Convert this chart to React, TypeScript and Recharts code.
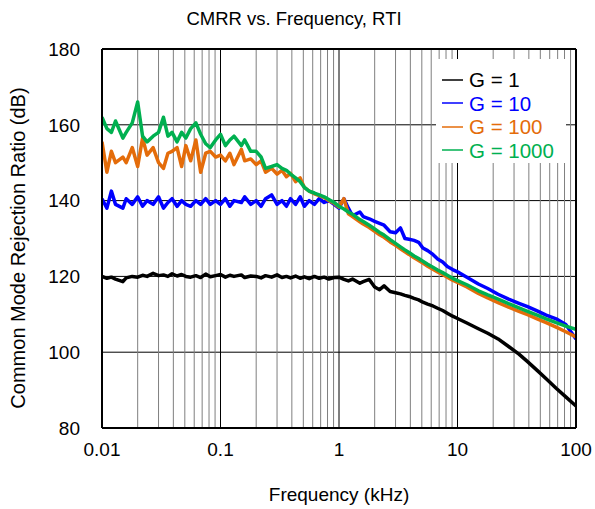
import React from "react";
import { LineChart, Line, XAxis, YAxis, CartesianGrid, ReferenceLine, Legend } from "recharts";

// frequency points (kHz)
const freq = [
  0.01, 0.011, 0.012, 0.013, 0.015, 0.016, 0.018, 0.02, 0.022, 0.024, 0.027, 0.03,
  0.033, 0.036, 0.039, 0.043, 0.047, 0.051, 0.056, 0.062, 0.068, 0.075, 0.082, 0.091,
  0.1, 0.11, 0.12, 0.13, 0.15, 0.16, 0.18, 0.2, 0.22, 0.24, 0.27, 0.3,
  0.33, 0.36, 0.39, 0.43, 0.47, 0.51, 0.56, 0.62, 0.68, 0.75, 0.82, 0.91,
  1, 1.1, 1.2, 1.3, 1.5, 1.6, 1.8, 2, 2.2, 2.4, 2.7, 3,
  3.3, 3.6, 3.9, 4.3, 4.7, 5.1, 5.6, 6.2, 6.8, 7.5, 8.2, 9.1,
  10, 12, 15, 18, 22, 27, 33, 39, 47, 56, 68, 82, 100,
];

// CMRR (dB), G = 1
const g1 = [
  120, 119.5, 119.8, 119.3, 118.6, 119.6, 120, 119.8, 120.3, 120, 120.8, 120.2,
  120.4, 120, 120.7, 120.1, 120.5, 120, 119.8, 120.2, 119.7, 120.6, 119.9, 120.2,
  120.5, 119.8, 120.3, 120, 120.4, 119.7, 120.1, 120, 119.6, 120.2, 119.8, 120.4,
  119.7, 120, 119.6, 120.1, 119.5, 119.9, 119.4, 120, 119.5, 119.8, 119.3, 119.7,
  119.8, 119.2, 118.8, 119.3, 118.2, 118.6, 119.2, 117.2, 116.5, 117.5, 116, 115.7,
  115.4, 115, 114.7, 114.2, 113.8, 113.2, 112.7, 112.2, 111.6, 111, 110.3, 109.5,
  108.9, 107.7, 106.2, 105, 103.5, 101.5, 99.5, 97.5, 95.2, 93, 90.5, 88.2, 85.8,
];

// G = 10
const g10 = [
  140.5, 138, 142.5, 139, 138, 140.5, 139, 141, 138.5, 140, 139, 141,
  138, 139.5, 140.5, 138.5, 140, 139, 138.5, 140, 139, 140.5, 139, 140,
  139, 140.5, 138.5, 140, 139.5, 141, 139, 140, 138.5, 140.5, 141.5, 139,
  140, 138.5, 140.5, 139, 141, 138.5, 140, 139, 140.5, 139.5, 140, 139,
  138, 140.5, 138, 136, 137, 135.8, 135.2, 134.5, 134, 133.5, 131.8, 131.5,
  132.8, 130, 129.8, 129.5, 129, 127.5, 126.8, 125.8, 124.6, 123.8, 122.6, 121.8,
  121.2, 119.8, 118, 116.8, 115.3, 114, 112.9, 112, 110.9, 109.8, 108.8, 107.3, 103.5,
];

// G = 100
const g100 = [
  155.5, 147.5, 153, 150, 151.5, 150, 154, 149, 156.5, 152, 154, 150,
  148.5, 152.5, 153, 154, 149, 154.5, 150.5, 156, 147.5, 152.5, 153, 151.5,
  152, 150.5, 152.5, 149.5, 153.5, 150.5, 151, 149.5, 150.5, 147.5, 148.5, 147,
  148, 146.3, 147.2, 145, 146, 143.5, 142.5, 141.8, 141.3, 140.8, 140, 139.3,
  138.3, 140.5, 136.5, 135.8, 134.4, 133.8, 132.9, 131.9, 131, 130.3, 129.1, 128.2,
  127.3, 126.5, 125.8, 124.9, 124.2, 123.5, 122.7, 121.9, 121.2, 120.5, 119.8, 119,
  118.4, 117.2, 115.5, 114.3, 113.1, 111.9, 110.8, 109.9, 108.8, 107.8, 106.6, 105.4, 104,
];

// G = 1000
const g1000 = [
  162, 159, 158, 161, 156.5, 158, 160.5, 166, 157, 155.5, 157, 158,
  162, 157, 158, 155.5, 158, 156.5, 159, 160.5, 157.5, 155, 154, 156,
  157.5, 154.5, 156, 157, 154.5, 156, 153, 153, 151.5, 148.5, 149, 149.5,
  148.5, 148, 147, 146, 145, 143.5, 142.5, 142, 141.5, 141, 140.3, 139.5,
  138.5, 137.8, 137, 136.4, 135, 134.5, 133.5, 132.5, 131.6, 130.9, 129.7, 128.7,
  127.8, 127, 126.3, 125.4, 124.7, 124, 123.2, 122.4, 121.7, 121, 120.3, 119.5,
  118.9, 117.8, 116.2, 115.1, 114, 112.8, 111.7, 110.8, 109.8, 108.8, 107.8, 106.9, 106,
];

const xTicks = [0.01, 0.1, 1, 10, 100];
const yTicks = [80, 100, 120, 140, 160, 180];
const decades = [0.01, 0.1, 1, 10];
const minorSteps = [2, 3, 4, 5, 6, 7, 8, 9];

const series = [
  { key: "g1", name: "G = 1", color: "#000000" },
  { key: "g10", name: "G = 10", color: "#0000FF" },
  { key: "g100", name: "G = 100", color: "#E46C0A" },
  { key: "g1000", name: "G = 1000", color: "#00B050" },
];

const data = freq.map((f, i) => ({ f, g1: g1[i], g10: g10[i], g100: g100[i], g1000: g1000[i] }));

const FONT = "'Liberation Sans', Arial, sans-serif";

const minorGrid = decades.flatMap((d) => minorSteps.map((m) => +(d * m).toPrecision(3)));

function LegendBox({ payload }: any) {
  return (
    <div style={{ background: "#fff", width: 130, height: 104, boxSizing: "border-box", paddingTop: 9, fontFamily: FONT }}>
      {(payload || []).map((p: any) => (
        <div key={p.value} style={{ display: "flex", alignItems: "center", height: 23.5 }}>
          <svg width={33} height={4} style={{ flex: "none" }}>
            <line x1={6} x2={27} y1={2} y2={2} stroke={p.color} strokeWidth={1.5} />
          </svg>
          <span style={{ fontSize: 20.5, color: p.color, lineHeight: "23px" }}>{p.value}</span>
        </div>
      ))}
    </div>
  );
}

export default function App() {
  return (
    <div style={{ position: "absolute", left: 0, top: 0, width: 595, height: 509, background: "#fff" }}>
      <LineChart width={595} height={509} data={data} margin={{ top: 49, right: 19, bottom: 31, left: 52 }}>
        <CartesianGrid vertical={false} stroke="#000" strokeWidth={1} />
        {minorGrid.map((v) => (
          <ReferenceLine key={"m" + v} x={v} stroke="#7f7f7f" strokeWidth={1} zIndex={-60} />
        ))}
        {xTicks.slice(1, -1).map((v) => (
          <ReferenceLine key={"M" + v} x={v} stroke="#000" strokeWidth={1} zIndex={-50} />
        ))}
        <XAxis
          dataKey="f"
          type="number"
          scale="log"
          domain={[0.01, 100]}
          ticks={xTicks}
          tickFormatter={(v) => String(v)}
          allowDataOverflow
          height={50}
          axisLine={false}
          tickLine={false}
          tickSize={0}
          tickMargin={15}
          tick={{ fill: "#000", fontSize: 19, fontFamily: FONT }}
        />
        <YAxis
          type="number"
          domain={[80, 180]}
          ticks={yTicks}
          width={50}
          axisLine={false}
          tickLine={false}
          tickSize={0}
          tickMargin={22}
          tick={{ fill: "#000", fontSize: 19, fontFamily: FONT }}
        />
        {series.map((s) => (
          <Line
            key={s.key}
            type="linear"
            dataKey={s.key}
            name={s.name}
            stroke={s.color}
            strokeWidth={3.5}
            strokeLinejoin="round"
            dot={false}
            isAnimationActive={false}
          />
        ))}
        <ReferenceLine y={180} stroke="#000" strokeWidth={2} />
        <ReferenceLine y={80} stroke="#000" strokeWidth={2} />
        <ReferenceLine x={0.01} stroke="#000" strokeWidth={2} />
        <ReferenceLine x={100} stroke="#000" strokeWidth={2} />
        <Legend
          layout="vertical"
          align="center"
          verticalAlign="middle"
          content={<LegendBox />}
          wrapperStyle={{ left: 436, top: 59, width: 130, height: 104 }}
        />
        <text x={294} y={25} textAnchor="middle" fontSize={18.5} fontFamily={FONT} fill="#000">
          CMRR vs. Frequency, RTI
        </text>
        <text x={339} y={501} textAnchor="middle" fontSize={19} fontFamily={FONT} fill="#000">
          Frequency (kHz)
        </text>
        <text x={25} y={248} transform="rotate(-90 25 248)" textAnchor="middle" fontSize={20} fontFamily={FONT} fill="#000">
          Common Mode Rejection Ratio (dB)
        </text>
      </LineChart>
    </div>
  );
}
